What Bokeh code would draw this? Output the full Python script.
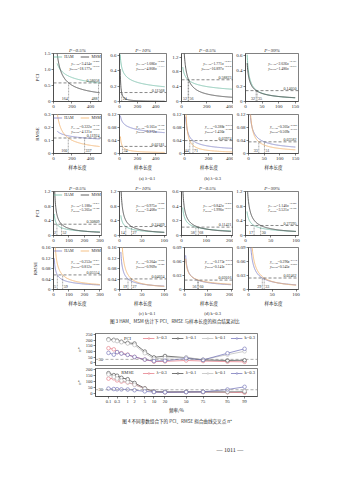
import numpy as np
from statistics import NormalDist
from bokeh.plotting import figure
from bokeh.models import Range1d, Span, Label, Legend, LegendItem, FixedTicker, Spacer
from bokeh.layouts import column, row
from bokeh.embed import file_html
from bokeh.resources import INLINE

SERIF = "Liberation Serif"
CJK = "Noto Sans CJK SC"
INK = "#2b2b2b"

# ---------------- Figure 3 : fitted power laws y = a * x^b (16 panels, row-major) ----------------
col_titles = ["P=0.5%", "P=10%", "P=0.5%", "P=99%"]
row_ylabels = ["PCI", "RMSE", "PCI", "RMSE"]
ham_a = [3.414, 1.086, 1.771, 2.026, 0.322, 0.165, 0.388, 0.305,
         1.188, 0.975, 0.842, 1.140, 0.253, 0.304, 0.173, 0.290]
ham_b = [-0.286, -0.280, -0.279, -0.751, -0.170, -0.152, -0.535, -0.545,
         -0.437, -0.524, -0.492, -0.505, -0.471, -0.686, -0.534, -0.732]
msm_a = [18.177, 4.808, 16.897, 1.480, 4.121, 0.272, 1.436, 0.509,
         5.305, 3.408, 1.990, 3.521, 0.812, 0.909, 0.141, 0.545]
msm_b = [-0.675, -1.173, -0.834, -0.679, -0.698, -0.716, -0.948, -0.759,
         -0.720, -0.799, -0.677, -0.752, -0.658, -0.945, -0.475, -0.886]
threshold = [0.58058, 0.11568, 0.58823, 0.14050, 0.11924, 0.02181, 0.03974, 0.03582,
             0.30809, 0.24469, 0.11421, 0.27295, 0.05554, 0.04034, 0.02016, 0.02462]
cross_ham = [488, None, 52, 35, 337, None, 71, 51, 22, 14, 58, 17, 25, 19, 56, 29]
cross_msm = [164, 24, 56, 32, 160, 34, 44, 33, 52, 27, 68, 30, 59, 27, 60, 33]
sample_start = [40, 8, 10, 5, 40, 10, 10, 5, 5, 3, 5, 3, 5, 3, 5, 3]
sample_end = [500, 500, 400, 150, 500, 500, 400, 150, 300, 100, 200, 100, 300, 100, 200, 100]
x_max = [520, 520, 410, 160, 520, 520, 410, 160, 310, 105, 210, 105, 310, 105, 210, 105]
x_ticks = [[0, 200, 400], [0, 200, 400], [0, 200, 400], [0, 50, 100, 150]] * 2 + \
          [[0, 100, 200, 300], [0, 50, 100], [0, 100, 200], [0, 50, 100]] * 2
y_max = [1.5, 0.62, 1.3, 0.62, 0.3, 0.12, 0.12, 0.12,
         1.2, 1.2, 0.6, 1.2, 0.16, 0.16, 0.09, 0.09]
y_ticks = [[0, 0.5, 1.0, 1.5], [0, 0.2, 0.4, 0.6], [0, 0.4, 0.8, 1.2], [0, 0.2, 0.4, 0.6],
           [0, 0.1, 0.2, 0.3], [0, 0.04, 0.08, 0.12], [0, 0.04, 0.08, 0.12], [0, 0.04, 0.08, 0.12],
           [0, 0.4, 0.8, 1.2], [0, 0.4, 0.8, 1.2], [0, 0.2, 0.4, 0.6], [0, 0.4, 0.8, 1.2],
           [0, 0.04, 0.08, 0.12, 0.16], [0, 0.04, 0.08, 0.12, 0.16], [0, 0.03, 0.06, 0.09], [0, 0.03, 0.06, 0.09]]
y_tick_labels = [["0", "0.5", "1.0", "1.5"], ["0", "0.2", "0.4", "0.6"], ["0", "0.4", "0.8", "1.2"], ["0", "0.2", "0.4", "0.6"],
                 ["0", "0.1", "0.2", "0.3"], ["0", "0.04", "0.08", "0.12"], ["0", "0.04", "0.08", "0.12"], ["0", "0.04", "0.08", "0.12"],
                 ["0", "0.4", "0.8", "1.2"], ["0", "0.4", "0.8", "1.2"], ["0", "0.2", "0.4", "0.6"], ["0", "0.4", "0.8", "1.2"],
                 ["0", "0.04", "0.08", "0.12", "0.16"], ["0", "0.04", "0.08", "0.12", "0.16"], ["0", "0.03", "0.06", "0.09"], ["0", "0.03", "0.06", "0.09"]]

# ---------------- Figure 4 : crossing sample length n* vs frequency ----------------
freq_pct = [0.1, 0.2, 0.3, 0.5, 1, 2, 5, 10, 20, 50, 75, 95, 99]
freq_tick_pct = [0.1, 0.3, 1, 2, 5, 10, 20, 50, 75, 95, 99]
freq_tick_labels = ["0.1", "0.3", "1", "2", "5", "10", "20", "50", "75", "95", "99"]
series_names = ["λ=0.3", "λ=0.1", "k=0.1", "k=0.3"]
pci_lam03 = [130, 120, 95, 85, 72, 52, 28, 10, 12, 20, 15, 10, 8]
pci_lam01 = [210, 205, 198, 188, 178, 172, 100, 48, 60, 45, 25, 20, 22]
pci_k01 = [205, 200, 193, 183, 172, 158, 85, 35, 42, 48, 28, 72, 102]
pci_k03 = [88, 72, 95, 82, 70, 52, 28, 15, 18, 38, 25, 85, 125]
rmse_lam03 = [125, 128, 110, 100, 92, 75, 40, 12, 8, 10, 10, 8, 5]
rmse_lam01 = [172, 155, 150, 132, 120, 88, 42, 15, 12, 12, 12, 12, 14]
rmse_k01 = [160, 140, 125, 108, 95, 72, 38, 12, 10, 10, 10, 12, 18]
rmse_k03 = [40, 36, 34, 33, 32, 26, 16, 10, 8, 10, 12, 32, 55]
n_ref = 30

# ---------------- layout / style ----------------
FW = [104, 65, 64, 106]
FL = [53, 15, 12, 12]
FR = [3, 3, 0, 41]
RH = [66, 62, 61, 64]
RT = [9, 4, 7, 3]
RB = [9, 15, 7, 13]
EQ_Y = [[10, 15], [14, 19], [15, 20], [17, 22]]
HAM_COL = ["#6dbba3", "#8082c8", "#6dbba3", "#8082c8"]
MSM_COL = ["#3a3a3a", "#f3b168", "#3a3a3a", "#f3b168"]
SER_COL = ["#e2707c", "#3c3c3c", "#b8b8b8", "#6a6ab4"]

CW = {'H': 0.722, 'A': 0.722, 'M': 0.889, 'S': 0.556, '=': 0.564, 'x': 0.5, 'y': 0.444, '.': 0.25, '−': 0.564}


def tw(s, size):
    return sum(CW.get(ch, 0.5) for ch in s) * size


def style_axes(p, fs="5px"):
    p.axis.major_label_text_font = SERIF
    p.axis.major_label_text_font_size = fs
    p.axis.major_label_standoff = 1
    p.axis.major_tick_in = 0
    p.axis.major_tick_out = 2
    p.axis.minor_tick_line_color = None
    p.axis.axis_line_width = 0.6
    p.axis.major_tick_line_width = 0.6
    p.axis.axis_line_color = INK
    p.axis.major_tick_line_color = INK
    p.axis.major_label_text_color = INK
    p.axis.axis_label_standoff = 1
    p.axis.axis_label_text_font_size = fs
    p.axis.axis_label_text_font_style = "normal"
    p.axis.axis_label_text_color = INK
    p.grid.visible = False
    p.outline_line_color = INK
    p.outline_line_width = 0.6


def lbl(p, x, y, text, size, align="left", baseline="alphabetic", font=SERIF, style="normal", color=INK, bg=None):
    kw = {}
    if bg:
        kw = dict(background_fill_color=bg, background_fill_alpha=1.0)
    p.add_layout(Label(x=x, y=y, text=text, text_font=font, text_font_size=f"{size}px",
                       text_font_style=style, text_align=align, text_baseline=baseline,
                       text_color=color, **kw))


def top_panel(r, c):
    i = 4 * r + c
    fw = FW[c] - FL[c] - FR[c]
    fh = RH[r] - RT[r] - RB[r]
    xm, ym = x_max[i], y_max[i]
    p = figure(width=FW[c], height=RH[r], x_range=Range1d(0, xm), y_range=Range1d(0, ym),
               output_backend="svg", toolbar_location=None,
               min_border_left=FL[c], min_border_right=FR[c],
               min_border_top=RT[r], min_border_bottom=RB[r])
    style_axes(p)
    X = lambda px: px / fw * xm
    Y = lambda py: ym - py / fh * ym
    p.xaxis.ticker = FixedTicker(ticks=x_ticks[i])
    p.yaxis.ticker = FixedTicker(ticks=y_ticks[i])
    p.yaxis.major_label_overrides = dict(zip(y_ticks[i], y_tick_labels[i]))
    if r in (0, 2):
        p.title.text = col_titles[c]
        p.title.align = "center"
        p.title.text_font = SERIF
        p.title.text_font_size = "5px"
        p.title.text_font_style = "italic"
        p.title.text_color = INK
        p.title.standoff = 1
        p.title.offset = 0
    if c == 0:
        p.yaxis.axis_label = row_ylabels[r]
        p.yaxis.axis_label_text_font = SERIF
    if r in (1, 3):
        p.xaxis.axis_label = "样本长度"
        p.xaxis.axis_label_text_font = CJK
        p.xaxis.axis_label_text_font_size = "4.5px"

    xs = np.linspace(sample_start[i], sample_end[i], 300)
    rh = p.line(xs, ham_a[i] * xs ** ham_b[i], line_color=HAM_COL[r], line_width=0.8)
    rm = p.line(xs, msm_a[i] * xs ** msm_b[i], line_color=MSM_COL[r], line_width=0.8)

    thr = threshold[i]
    p.add_layout(Span(location=thr, dimension="width", line_color="#555555", line_width=0.7, line_dash="3 2"))
    lbl(p, X(fw - 2), thr + 1.0 / fh * ym, f"{thr:.5f}", 4, align="right", baseline="bottom")

    crosses = sorted(v for v in (cross_ham[i], cross_msm[i]) if v is not None)
    p.segment(x0=crosses, y0=[0] * len(crosses), x1=crosses, y1=[thr] * len(crosses),
              line_color="#555555", line_width=0.5, line_dash="2 1")
    for k, cx in enumerate(crosses):
        right = (len(crosses) == 1) or (k == 1 and cx < 0.8 * xm)
        dx = 1.0 / fw * xm
        lbl(p, cx + dx if right else cx - dx, Y(fh - 2), str(cx), 4,
            align="left" if right else "right", baseline="bottom")

    # fitted equations (two lines, right aligned in the frame)
    for (name, a, b), ly in zip([("HAM", ham_a[i], ham_b[i]), ("MSM", msm_a[i], msm_b[i])], EQ_Y[r]):
        s, s2 = 3.8, 2.7
        parts = [("y", s, 0.0, "italic"), (name, s2, -1.0, "normal"), (f"={a:.3f}", s, 0.0, "normal"),
                 ("x", s, 0.0, "italic"), (f"−{abs(b):.3f}", s2, 1.8, "normal")]
        total = sum(tw(t, sz) for t, sz, _, _ in parts)
        px = fw - 2 - total
        for t, sz, dy, st in parts:
            lbl(p, X(px), Y(ly - dy), t, sz, style=st)
            px += tw(t, sz)

    if c == 0:
        leg = Legend(items=[LegendItem(label="HAM", renderers=[rh]), LegendItem(label="MSM", renderers=[rm])],
                     location="top_center", orientation="horizontal",
                     label_text_font=SERIF, label_text_font_size="4px", label_text_color=INK,
                     glyph_width=9, glyph_height=3, label_height=4, label_width=8, label_standoff=2,
                     spacing=7, padding=0, margin=1, border_line_alpha=0, background_fill_alpha=0)
        p.add_layout(leg)
    return p


def text_strip(height, items):
    """items: (x, y_from_top, text, size, font) in page pixels of this strip"""
    p = figure(width=339, height=height, x_range=Range1d(0, 339), y_range=Range1d(0, height),
               x_axis_type=None, y_axis_type=None, output_backend="svg", toolbar_location=None,
               title=None, min_border=0, outline_line_color=None)
    p.grid.visible = False
    for x, yt, text, size, font in items:
        lbl(p, x, height - yt, text, size, align="center", baseline="middle", font=font)
    return p


zq = NormalDist().inv_cdf
fx = [zq(v / 100.0) for v in freq_pct]
ftick = [zq(v / 100.0) for v in freq_tick_pct]
XR = (-3.607, 2.839)


def bottom_panel(kind):
    if kind == 0:
        h, top, bot, y0, y1, yt = 35, 2, 1, -25, 262, [0, 50, 100, 150, 200, 250]
        data = [pci_lam03, pci_lam01, pci_k01, pci_k03]
        tag = "PCI"
    else:
        h, top, bot, y0, y1, yt = 49, 2, 15, -28, 212, [0, 50, 100, 150, 200]
        data = [rmse_lam03, rmse_lam01, rmse_k01, rmse_k03]
        tag = "RMSE"
    p = figure(width=339, height=h, x_range=Range1d(*XR), y_range=Range1d(y0, y1),
               output_backend="svg", toolbar_location=None,
               x_axis_location=None if kind == 0 else "below",
               min_border_left=95, min_border_right=82, min_border_top=top, min_border_bottom=bot)
    style_axes(p, "4.5px")
    p.yaxis.ticker = FixedTicker(ticks=yt)
    p.yaxis.axis_label = "n*"
    p.yaxis.axis_label_text_font = SERIF
    p.yaxis.axis_label_text_font_style = "italic"
    if kind == 1:
        p.xaxis.ticker = FixedTicker(ticks=ftick)
        p.xaxis.major_label_overrides = dict(zip(ftick, freq_tick_labels))
        p.xaxis.axis_label = "频率/%"
        p.xaxis.axis_label_text_font = CJK
    p.add_layout(Span(location=n_ref, dimension="width", line_color="#777777", line_width=0.6, line_dash="3 2"))
    fwid = 162.0
    fhgt = h - top - bot
    PX = lambda px: XR[0] + px / fwid * (XR[1] - XR[0])
    lbl(p, PX(3), n_ref, str(n_ref), 4.5, align="left", baseline="middle", bg="white")
    items = []
    for name, vals, col in zip(series_names, data, SER_COL):
        l = p.line(fx, vals, line_color=col, line_width=0.7)
        s = p.scatter(fx, vals, marker="circle", size=3.6, fill_color="white", line_color=col, line_width=0.6)
        items.append(LegendItem(label=name, renderers=[l, s]))
    leg = Legend(items=items, location="top_right", orientation="horizontal",
                 label_text_font=SERIF, label_text_font_size="4.5px", label_text_color=INK,
                 glyph_width=12, glyph_height=4, label_height=5, label_width=10, label_standoff=2,
                 spacing=5, padding=0, margin=2, border_line_alpha=0, background_fill_alpha=0)
    p.add_layout(leg)
    lbl(p, PX(32), y1 - 5.0 / fhgt * (y1 - y0), tag, 4.5, align="center", baseline="middle")
    return p


rows = []
for r in range(4):
    rows.append(row(*[top_panel(r, c) for c in range(4)]))

cap_ab = text_strip(11, [(108, 5.0, "(a) λ=0.1", 4.5, SERIF), (245, 5.0, "(b) λ=0.3", 4.5, SERIF)])
cap_cd3 = text_strip(18, [(108, 4.5, "(c) k=0.1", 4.5, SERIF), (245, 4.5, "(d) k=0.3", 4.5, SERIF),
                          (167, 12.5, "图 3  HAM、MSM 估计下 PCI、RMSE 与样本长度的拟合结果对比", 4.6, CJK)])
cap4_page = text_strip(40, [(172, 5.0, "图 4  不同参数组合下的 PCI、RMSE 拟合曲线交叉点 n*", 4.6, CJK),
                            (281, 34.0, "— 1011 —", 6, SERIF)])

layout = column(
    Spacer(width=339, height=44),
    rows[0], rows[1], cap_ab, rows[2], rows[3], cap_cd3,
    Spacer(width=339, height=5),
    bottom_panel(0), bottom_panel(1), cap4_page,
)

open("out.html", "w").write(file_html(layout, INLINE))
